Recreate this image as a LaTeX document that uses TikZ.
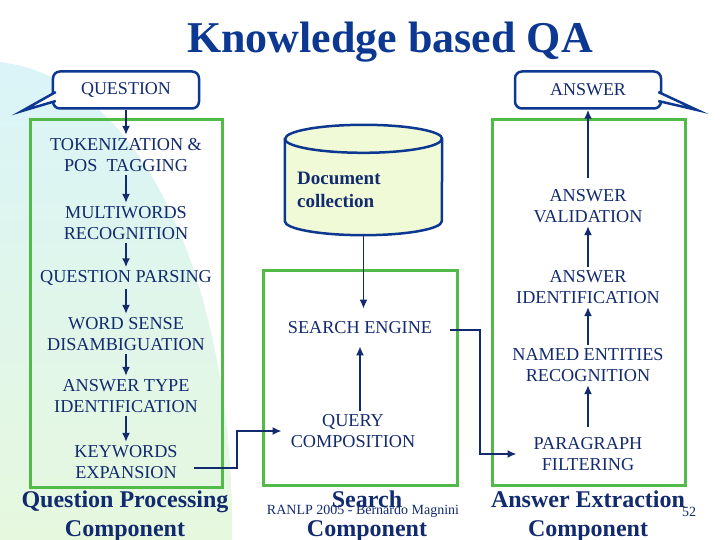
\documentclass[tikz,border=0pt]{standalone}
\usepackage{fontspec}
\setmainfont{Liberation Serif}
\definecolor{qanavy}{RGB}{18,42,110}
\definecolor{qatitle}{RGB}{12,56,145}
\definecolor{qagreen}{RGB}{82,186,72}
\definecolor{qacyl}{RGB}{240,250,214}
\definecolor{qasky}{RGB}{218,244,248}
\definecolor{qamint}{RGB}{230,248,222}
\usetikzlibrary{shapes.geometric, arrows.meta, positioning}

\begin{document}
\begin{tikzpicture}[x=1bp, y=-1bp,
  stage/.style={text=qanavy, align=center, inner sep=3bp, font=\fontsize{18.2bp}{21.5bp}\selectfont},
  panel/.style={draw=qagreen, line width=3bp},
  bubble/.style={draw=qatitle, line width=2.5bp, fill=white, rounded corners=7bp, minimum width=146bp, minimum height=37bp, text=qanavy, font=\fontsize{18bp}{20bp}\selectfont},
  bubbletail/.style={draw=qatitle, line width=2.5bp, fill=white, line join=miter},
  cylwall/.style={draw=qatitle, line width=2.5bp, fill=qacyl},
  flow/.style={draw=qanavy, line width=1.8bp, -{Latex[length=9bp, width=8bp]}},
  complabel/.style={text=qanavy, align=center, inner sep=0pt, font=\fontsize{24bp}{29bp}\selectfont\bfseries},
  smalltext/.style={text=qanavy, inner sep=0pt, font=\fontsize{14bp}{16bp}\selectfont}
]
  \useasboundingbox (0,0) rectangle (720,540);
  \shade[top color=qasky, bottom color=qamint] (0,62) .. controls (150,80) and (235,300) .. (232,540) -- (0,540) -- cycle;

  \node[text=qatitle, font=\fontsize{44bp}{48bp}\selectfont\bfseries] (title) at (390,42) {Knowledge based QA};

  \draw[panel] (30,120) rectangle (222,487);
  \draw[panel] (263,270) rectangle (457,485);
  \draw[panel] (492,120) rectangle (685,485);

  \node[bubble] (question) at (126,90) {QUESTION};
  \node[bubble] (answer) at (588,90) {ANSWER};
  \coordinate (qtip) at (22,111);
  \coordinate (atip) at (697,110);
  \filldraw[bubbletail] ([shift={(4,2)}]question.west) -- (qtip) -- ([shift={(4,11)}]question.west);
  \filldraw[bubbletail] ([shift={(-4,2)}]answer.east) -- (atip) -- ([shift={(-4,11)}]answer.east);

  \node[stage] (tok) at (126,155) {TOKENIZATION \&\\POS~~TAGGING};
  \node[stage] (multi) at (126,223) {MULTIWORDS\\RECOGNITION};
  \node[stage] (parse) at (126,278) {QUESTION PARSING};
  \node[stage] (wsd) at (126,334) {WORD SENSE\\DISAMBIGUATION};
  \node[stage] (atype) at (126,396) {ANSWER TYPE\\IDENTIFICATION};
  \node[stage] (kwd) at (126,462) {KEYWORDS\\EXPANSION};

  \node[inner sep=0pt, minimum width=157bp, minimum height=110bp] (doc) at (363.5,180) {};
  \filldraw[cylwall] ([yshift=-14bp]doc.north west) -- ([yshift=14bp]doc.south west)
    arc[start angle=180, end angle=360, x radius=78.5bp, y radius=14bp] -- ([yshift=-14bp]doc.north east)
    arc[start angle=0, end angle=180, x radius=78.5bp, y radius=14bp] -- cycle;
  \draw[cylwall, fill=none] ([yshift=-14bp]doc.north west) arc[start angle=180, end angle=360, x radius=78.5bp, y radius=14bp];
  \node[text=qanavy, align=left, anchor=west, inner sep=0pt, font=\fontsize{19bp}{23bp}\selectfont\bfseries] (doctext) at (297,190) {Document\\collection};
  \node[stage] (search) at (360,328) {SEARCH ENGINE};
  \node[stage] (query) at (353,431) {QUERY\\COMPOSITION};

  \node[stage] (valid) at (588,206) {ANSWER\\VALIDATION};
  \node[stage] (ident) at (588,287) {ANSWER\\IDENTIFICATION};
  \node[stage] (named) at (588,365) {NAMED ENTITIES\\RECOGNITION};
  \node[stage] (para) at (588,454) {PARAGRAPH\\FILTERING};

  \node[complabel] (qpc) at (125,516) {Question Processing\\Component};
  \node[complabel] (sc) at (367,516) {Search\\Component};
  \node[complabel] (aec) at (588,516) {Answer Extraction\\Component};
  \node[smalltext] (credit) at (363,511) {RANLP 2005 - Bernardo Magnini};
  \node[smalltext] (page) at (689,512) {52};

  \draw[flow] (question) -- (tok);
  \draw[flow] (tok) -- (multi);
  \draw[flow] (multi) -- (parse);
  \draw[flow] (parse) -- (wsd);
  \draw[flow] (wsd) -- (atype);
  \draw[flow] (atype) -- (kwd);

  \draw[flow] (doc.south) -- ([yshift=10bp]doc.south |- search.north);
  \draw[flow] (query.north -| search.south) -- ([yshift=-9bp]search.south);
  \coordinate (kbend) at (237,450);
  \draw[flow] ([shift={(13,6)}]kwd.east) -| (kbend) |- ([xshift=-6bp]query.west);

  \draw[flow, shorten <=7bp] (para) -- (named);
  \draw[flow] (named) -- (ident);
  \draw[flow] (ident) -- (valid);
  \draw[flow, shorten <=8bp] (valid) -- (answer);
  \coordinate (sbend) at (480,400);
  \draw[flow] ([shift={(15,2)}]search.east) -| (sbend) |- ([xshift=-14bp]para.west);
\end{tikzpicture}
\end{document}
